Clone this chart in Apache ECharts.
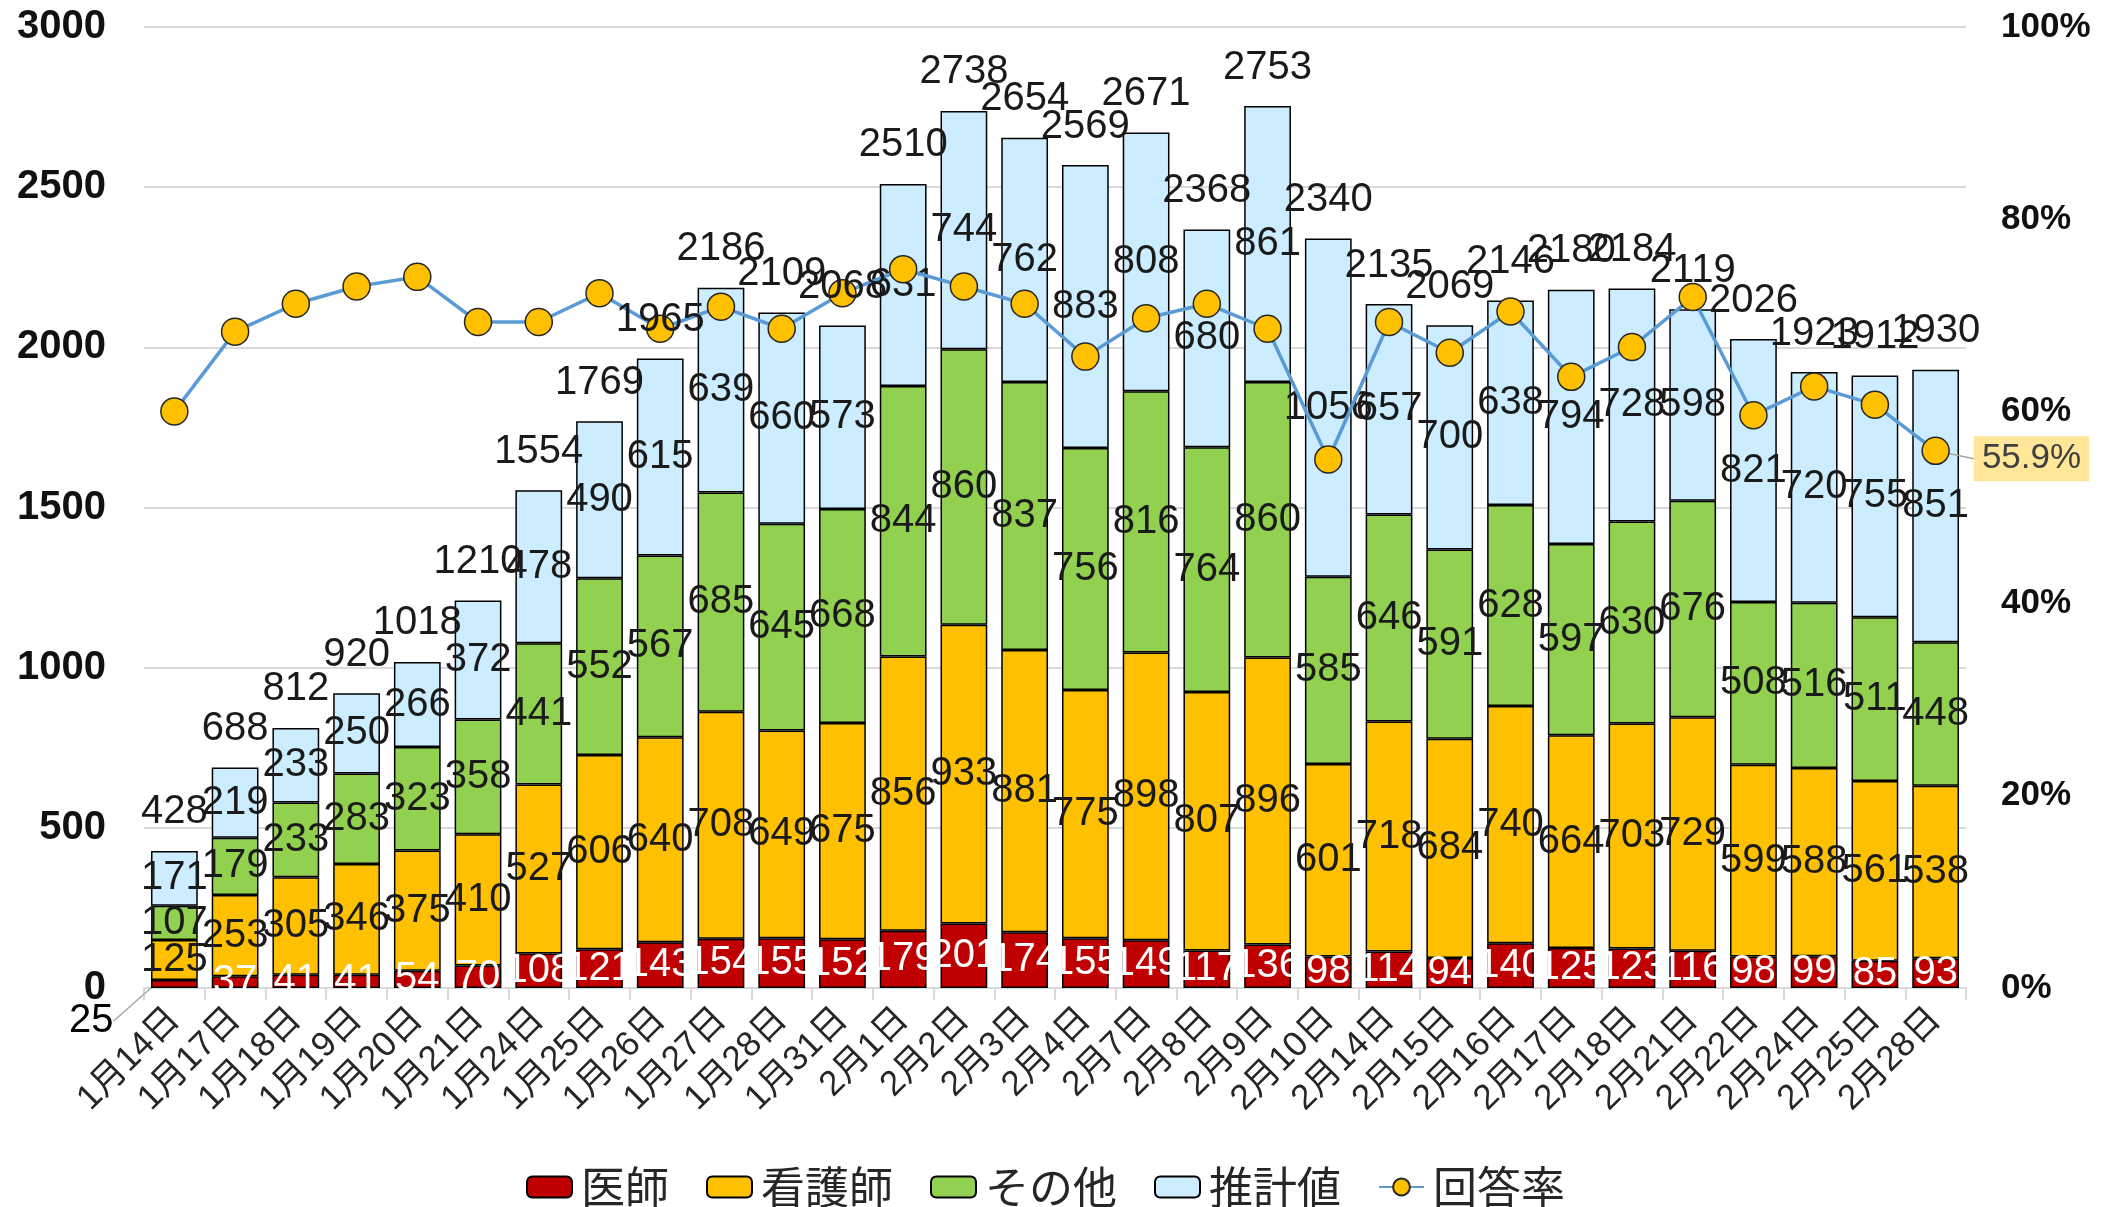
<!DOCTYPE html>
<html>
<head>
<meta charset="utf-8">
<script src="https://cdn.jsdelivr.net/npm/echarts@6/dist/echarts.min.js"></script>
<style>
  html, body { margin: 0; padding: 0; background: #fff; }
  #chart { width: 2108px; height: 1207px; }
</style>
</head>
<body>
<div id="chart"></div>
<script>
  // 日付
  var categories = ['1月14日', '1月17日', '1月18日', '1月19日', '1月20日', '1月21日', '1月24日', '1月25日', '1月26日', '1月27日',
    '1月28日', '1月31日', '2月1日', '2月2日', '2月3日', '2月4日', '2月7日', '2月8日', '2月9日', '2月10日',
    '2月14日', '2月15日', '2月16日', '2月17日', '2月18日', '2月21日', '2月22日', '2月24日', '2月25日', '2月28日']

  var doctors = [25, 37, 41, 41, 54, 70, 108, 121, 143, 154, 155, 152, 179, 201, 174, 155, 149, 117, 136, 98,
    114, 94, 140, 125, 123, 116, 98, 99, 85, 93]
  var nurses = [125, 253, 305, 346, 375, 410, 527, 606, 640, 708, 649, 675, 856, 933, 881, 775, 898, 807, 896, 601,
    718, 684, 740, 664, 703, 729, 599, 588, 561, 538]
  var others = [107, 179, 233, 283, 323, 358, 441, 552, 567, 685, 645, 668, 844, 860, 837, 756, 816, 764, 860, 585,
    646, 591, 628, 597, 630, 676, 508, 516, 511, 448]
  var estimated = [171, 219, 233, 250, 266, 372, 478, 490, 615, 639, 660, 573, 631, 744, 762, 883, 808, 680, 861, 1056,
    657, 700, 638, 794, 728, 598, 821, 720, 755, 851]
  var totals = [428, 688, 812, 920, 1018, 1210, 1554, 1769, 1965, 2186, 2109, 2068, 2510, 2738, 2654, 2569, 2671, 2368, 2753, 2340,
    2135, 2069, 2146, 2180, 2184, 2119, 2026, 1923, 1912, 1930]
  // 回答率 (%)
  var rates = [60.0, 68.3, 71.2, 73.0, 74.0, 69.3, 69.3, 72.3, 68.6, 70.9, 68.6, 72.3, 74.8, 73.0, 71.2, 65.7, 69.7, 71.2, 68.6, 55.0,
    69.3, 66.1, 70.4, 63.6, 66.7, 71.9, 59.6, 62.6, 60.7, 55.9]

  var leftTicks = { min: 0, max: 3000, interval: 500 }
  var rightTicks = { min: 0, max: 100, interval: 20 }

  var numFont = "'Liberation Sans', 'Noto Sans CJK JP', sans-serif"
  var jpFont = "'Noto Sans CJK JP', 'Liberation Sans', sans-serif"
  var barBorder = { borderColor: '#000', borderWidth: 1.5 }

  function segLabel(color) {
    return {
      show: true,
      position: 'inside',
      color: color,
      fontSize: 40,
      fontFamily: numFont
    }
  }

  var chart = echarts.init(document.getElementById('chart'))

  var doctorData = doctors.map(function (v, i) {
    if (i === 0) {
      return {
        value: v,
        label: { color: '#000' },
        labelLine: { show: true, lineStyle: { color: '#a6a6a6', width: 1.5 } }
      }
    }
    return v
  })

  var rateData = rates.map(function (v, i) {
    if (i === rates.length - 1) {
      return {
        value: v,
        label: {
          show: true,
          position: 'right',
          distance: 12,
          formatter: '{c}%',
          fontSize: 35,
          color: '#404040',
          fontFamily: numFont,
          backgroundColor: '#FFE699',
          padding: [6, 8, 4, 8]
        },
        labelLine: { show: true, lineStyle: { color: '#a6a6a6', width: 1.5 } }
      }
    }
    return v
  })

  chart.setOption({
    animation: false,
    textStyle: { fontFamily: numFont },
    grid: {
      left: 144,
      right: 142,
      top: 27,
      bottom: 219,
      containLabel: false
    },
    legend: {
      data: ['医師', '看護師', 'その他', '推計値', '回答率'],
      left: 521,
      top: 1160,
      itemWidth: 45,
      itemHeight: 21,
      itemGap: 37,
      textStyle: {
        fontSize: 44,
        color: '#262626',
        fontFamily: jpFont,
        padding: [0, 0, 0, 4]
      }
    },
    xAxis: {
      type: 'category',
      data: categories,
      axisLine: { lineStyle: { color: '#d9d9d9', width: 2 } },
      axisTick: { show: true, length: 12, lineStyle: { color: '#d9d9d9', width: 2 } },
      axisLabel: {
        interval: 0,
        rotate: 45,
        margin: 26,
        fontSize: 35,
        color: '#262626',
        fontFamily: numFont
      }
    },
    yAxis: [
      {
        type: 'value',
        min: leftTicks.min,
        max: leftTicks.max,
        interval: leftTicks.interval,
        axisLine: { show: false },
        axisTick: { show: false },
        splitLine: { lineStyle: { color: '#d9d9d9', width: 2 } },
        axisLabel: {
          margin: 38,
          fontSize: 40,
          fontWeight: 'bold',
          color: '#111',
          fontFamily: numFont,
          formatter: function (v) { return String(v) }
        }
      },
      {
        type: 'value',
        min: rightTicks.min,
        max: rightTicks.max,
        interval: rightTicks.interval,
        axisLine: { show: false },
        axisTick: { show: false },
        splitLine: { show: false },
        axisLabel: {
          margin: 35,
          fontSize: 35,
          fontWeight: 'bold',
          color: '#111',
          fontFamily: numFont,
          formatter: '{value}%'
        }
      }
    ],
    series: [
      {
        name: '医師',
        type: 'bar',
        stack: 'total',
        barCategoryGap: '23%',
        itemStyle: Object.assign({ color: '#C00000' }, barBorder),
        label: segLabel('#fff'),
        labelLayout: function (params) {
          if (params.dataIndex === 0) {
            return { dx: -83, dy: 37 }
          }
          return {}
        },
        data: doctorData
      },
      {
        name: '看護師',
        type: 'bar',
        stack: 'total',
        itemStyle: Object.assign({ color: '#FFC000' }, barBorder),
        label: segLabel('#1a1a1a'),
        data: nurses
      },
      {
        name: 'その他',
        type: 'bar',
        stack: 'total',
        itemStyle: Object.assign({ color: '#92D050' }, barBorder),
        label: segLabel('#1a1a1a'),
        data: others
      },
      {
        name: '推計値',
        type: 'bar',
        stack: 'total',
        itemStyle: Object.assign({ color: '#CCECFF' }, barBorder),
        label: segLabel('#1a1a1a'),
        data: estimated
      },
      {
        // 合計ラベル用
        name: '合計',
        type: 'scatter',
        symbolSize: 1,
        itemStyle: { color: 'rgba(0,0,0,0)', opacity: 1 },
        label: {
          show: true,
          position: 'top',
          distance: 18,
          color: '#1a1a1a',
          fontSize: 40,
          fontFamily: numFont
        },
        z: 5,
        data: totals
      },
      {
        name: '回答率',
        type: 'line',
        yAxisIndex: 1,
        symbol: 'circle',
        symbolSize: 27,
        lineStyle: { color: '#5B9BD5', width: 3.5 },
        itemStyle: { color: '#FFC000', borderColor: '#262626', borderWidth: 1.5 },
        labelLayout: function (params) {
          if (params.dataIndex === rates.length - 1) {
            return { dx: 12, dy: 8 }
          }
          return {}
        },
        z: 4,
        data: rateData
      }
    ]
  })
</script>
</body>
</html>
